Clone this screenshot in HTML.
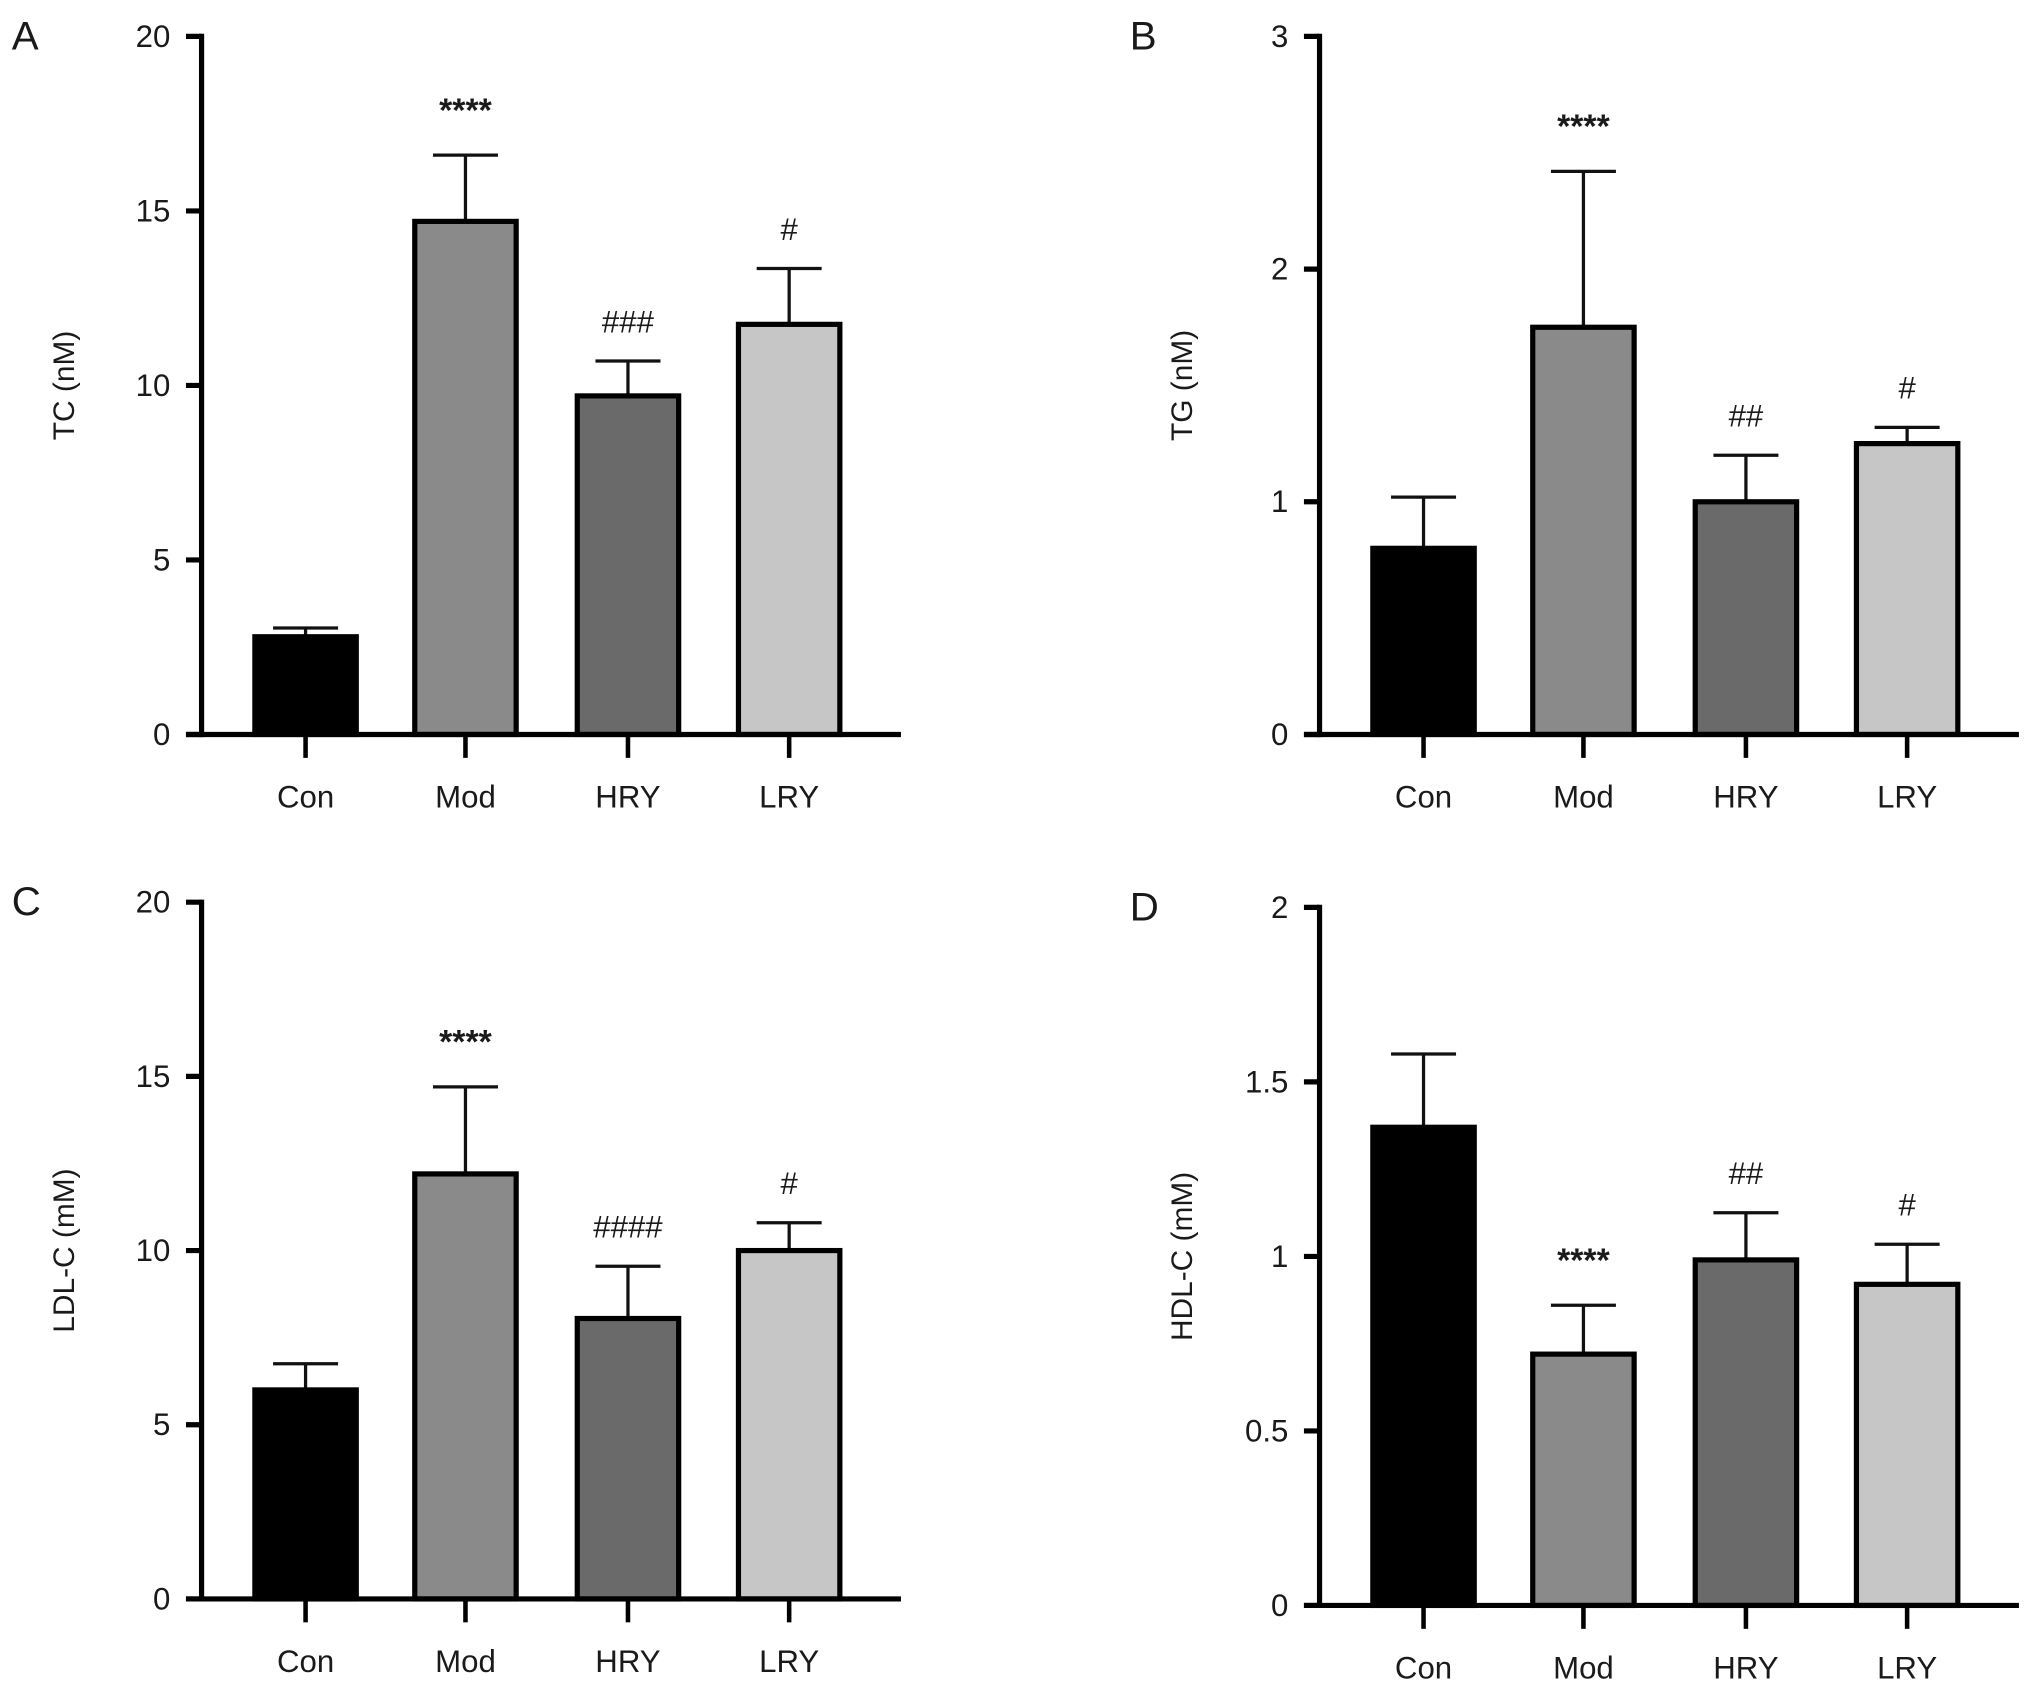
<!DOCTYPE html>
<html><head><meta charset="utf-8">
<style>
html,body{margin:0;padding:0;background:#fff;}
svg{display:block;}
text{font-family:"Liberation Sans",sans-serif;fill:#1a1a1a;}
</style></head>
<body>
<svg id="chart" width="2032" height="1688" viewBox="0 0 1563 1298.5" xmlns="http://www.w3.org/2000/svg"></svg>
<script>
const categories = ["Con","Mod","HRY","LRY"];
const tcValues = [2.8, 14.7, 9.7, 11.75];
const tcErrors = [0.25, 1.9, 1.0, 1.6];
const tcMarks = ["", "****", "###", "#"];
const tcTicks = ["0","5","10","15","20"];
const tgValues = [0.8, 1.75, 1.0, 1.25];
const tgErrors = [0.22, 0.67, 0.2, 0.07];
const tgMarks = ["", "****", "##", "#"];
const tgTicks = ["0","1","2","3"];
const ldlValues = [6.0, 12.2, 8.05, 10.0];
const ldlErrors = [0.75, 2.5, 1.5, 0.8];
const ldlMarks = ["", "****", "####", "#"];
const ldlTicks = ["0","5","10","15","20"];
const hdlValues = [1.37, 0.72, 0.99, 0.92];
const hdlErrors = [0.21, 0.14, 0.135, 0.115];
const hdlMarks = ["", "****", "##", "#"];
const hdlTicks = ["0","0.5","1","1.5","2"];

const fills = ["#000000","#8a8a8a","#6a6a6a","#c6c6c6"];
const NS = "http://www.w3.org/2000/svg";
const svg = document.getElementById("chart");
function mk(tag, attrs, parent){
  const e = document.createElementNS(NS, tag);
  for (const k in attrs) e.setAttribute(k, attrs[k]);
  (parent||svg).appendChild(e);
  return e;
}
function panel(key, letter, title, ax, top, zero, ticks, vals, errs, marks){
  const g = mk("g", {});
  
  
  const maxV = parseFloat(ticks[ticks.length-1]);
  const y = v => zero - (v / maxV) * (zero - top);
  const xs = [80, 203, 328, 452].map(d => ax + d);
  const L = mk("text", {x: ax-146, y: top+10, "font-size": 31}, g);
  L.textContent = letter;
  
  
  const T = mk("text", {x:0, y:0, "font-size": 23, "text-anchor":"middle", transform:`translate(${ax-98},${(top+zero)/2}) rotate(-90)`}, g);
  T.textContent = title;
  
  
  vals.forEach((v,i)=>{
    const yt = y(v), ye = y(v+errs[i]);
    const eb = mk("line", {x1: xs[i], x2: xs[i], y1: yt, y2: ye, stroke:"#111", "stroke-width":2.5}, g);
    
    
    const cap = mk("line", {x1: xs[i]-25, x2: xs[i]+25, y1: ye, y2: ye, stroke:"#111", "stroke-width":2.5}, g);
    
    
    const r = mk("rect", {x: xs[i]-39, y: yt, width: 78, height: zero-yt, fill: fills[i], stroke:"#000", "stroke-width":4}, g);
    
    
    if (marks[i]) {
      const star = marks[i][0]=="*";
      const m = mk("text", {x: xs[i], y: star ? ye-26 : ye-22, "font-size": star?26:24, "text-anchor":"middle", "font-weight": star?"bold":"normal"}, g);
      m.textContent = marks[i];
      
      
    }
    const ct = mk("line", {x1: xs[i], x2: xs[i], y1: zero, y2: zero+18, stroke:"#000", "stroke-width":3.5}, g);
    
    
    const cl = mk("text", {x: xs[i], y: zero+56, "font-size": 24, "text-anchor":"middle"}, g);
    cl.textContent = categories[i];
    
    
  });
  const ya = mk("line", {x1: ax, x2: ax, y1: top-2, y2: zero+2, stroke:"#000", "stroke-width":4}, g);
  
  
  const xa = mk("line", {x1: ax-12, x2: ax+538, y1: zero, y2: zero, stroke:"#000", "stroke-width":4}, g);
  
  
  ticks.forEach(t=>{
    const ty = y(parseFloat(t));
    const tk = mk("line", {x1: ax-12, x2: ax, y1: ty, y2: ty, stroke:"#000", "stroke-width":4}, g);
    
    
    const tl = mk("text", {x: ax-24, y: ty+8, "font-size": 24, "text-anchor":"end"}, g);
    tl.textContent = t;
    
    
  });
}
panel("a","A","TC (nM)",155,28,565,tcTicks,tcValues,tcErrors,tcMarks);
panel("b","B","TG (nM)",1015,28,565,tgTicks,tgValues,tgErrors,tgMarks);
panel("c","C","LDL-C (mM)",155,694,1230,ldlTicks,ldlValues,ldlErrors,ldlMarks);
panel("d","D","HDL-C (mM)",1015,698,1235,hdlTicks,hdlValues,hdlErrors,hdlMarks);
</script>
</body></html>
